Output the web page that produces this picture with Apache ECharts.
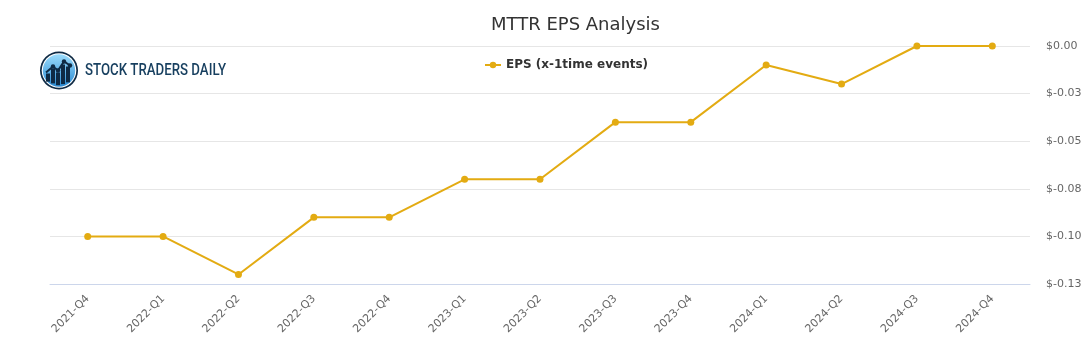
<!DOCTYPE html>
<html>
<head>
<meta charset="utf-8">
<style>
  html, body { margin: 0; padding: 0; background: #ffffff; }
  #chart { width: 1091px; height: 350px; }
</style>
<script src="https://cdn.jsdelivr.net/npm/echarts@6/dist/echarts.min.js"></script>
</head>
<body>
<div id="chart"></div>
<script>
// Quarterly EPS excluding one-time events
const quarters = ['2021-Q4', '2022-Q1', '2022-Q2', '2022-Q3', '2022-Q4', '2023-Q1', '2023-Q2',
                  '2023-Q3', '2023-Q4', '2024-Q1', '2024-Q2', '2024-Q3', '2024-Q4'];
const epsValues = [-0.10, -0.10, -0.12, -0.09, -0.09, -0.07, -0.07, -0.04, -0.04, -0.01, -0.02, 0.00, 0.00];
const seriesName = 'EPS (x-1time events)';
const chartTitle = 'MTTR EPS Analysis';
const brandText = 'STOCK TRADERS DAILY';

function money(v) {
  const r = Math.sign(v) * Math.round(Math.abs(v) * 100 + 1e-6) / 100;
  return '$' + (r === 0 ? 0 : r).toFixed(2);
}

const chart = echarts.init(document.getElementById('chart'));

// Brand mark: round badge with a small bar chart and trend line
const navy = '#0e2a44';
const cx = 59, cy = 70.5;
const bars = [[-11, 3], [-6, -2], [-1, 2], [4, -6], [9, -4]];
const logo = [
  { type: 'circle', shape: { cx: cx, cy: cy, r: 19 }, style: { fill: navy } },
  { type: 'circle', shape: { cx: cx, cy: cy, r: 17.3 }, style: { fill: '#ffffff' } },
  { type: 'circle', shape: { cx: cx, cy: cy, r: 16.2 }, style: {
      fill: new echarts.graphic.LinearGradient(0, 0, 0, 1, [
        { offset: 0, color: '#9bdcfc' }, { offset: 1, color: '#2b8bd3' }]) } }
];
bars.forEach(b => logo.push({
  type: 'rect', shape: { x: cx + b[0] - 2, y: cy + b[1], width: 4, height: 15 - b[1] - Math.abs(b[0]) * 0.35 },
  style: { fill: navy }
}));
const pts = [[cx - 13, cy + 2], [cx - 6, cy - 4], [cx - 1, cy], [cx + 5, cy - 9], [cx + 11, cy - 5]];
logo.push({ type: 'polyline', shape: { points: pts }, style: { stroke: navy, lineWidth: 2, fill: null } });
pts.slice(1).forEach(p => logo.push({
  type: 'circle', shape: { cx: p[0], cy: p[1], r: 2.2 }, style: { fill: navy }
}));

// Wordmark, squeezed horizontally to a condensed look
const brandFont = '500 17px Roboto, sans-serif';
const ctx = document.createElement('canvas').getContext('2d');
ctx.font = brandFont;
const brandScale = 141 / ctx.measureText(brandText).width;
logo.push({
  type: 'text', x: 85, y: 71, scaleX: brandScale,
  style: { text: brandText, fill: '#173f5f', font: brandFont, textVerticalAlign: 'middle' }
});

chart.setOption({
  backgroundColor: '#ffffff',
  title: {
    text: chartTitle, left: 486, top: 11,
    textStyle: { fontFamily: 'DejaVu Sans', fontSize: 18, fontWeight: 'normal', color: '#333333' }
  },
  legend: {
    top: 54, left: 479, itemWidth: 16, itemHeight: 8,
    textStyle: { fontFamily: 'DejaVu Sans', fontSize: 12, fontWeight: 'bold', color: '#333333' },
    data: [seriesName]
  },
  grid: { left: 50, right: 61, top: 46, bottom: 66 },
  xAxis: {
    type: 'category', data: quarters, boundaryGap: true,
    axisLine: { onZero: false, lineStyle: { color: '#ccd6eb' } },
    axisTick: { show: false },
    axisLabel: { rotate: 45, color: '#666666', fontFamily: 'DejaVu Sans', fontSize: 11, margin: 13 }
  },
  yAxis: {
    type: 'value', position: 'right', min: -0.125, max: 0, interval: 0.025,
    axisLine: { show: false }, axisTick: { show: false },
    splitLine: { lineStyle: { color: '#e6e6e6' } },
    axisLabel: { formatter: money, color: '#666666', fontFamily: 'DejaVu Sans', fontSize: 11, margin: 16 }
  },
  series: [{
    name: seriesName, type: 'line', data: epsValues,
    color: '#e3ab12', symbol: 'circle', symbolSize: 7,
    lineStyle: { width: 2 }
  }],
  graphic: logo
});
</script>
</body>
</html>
